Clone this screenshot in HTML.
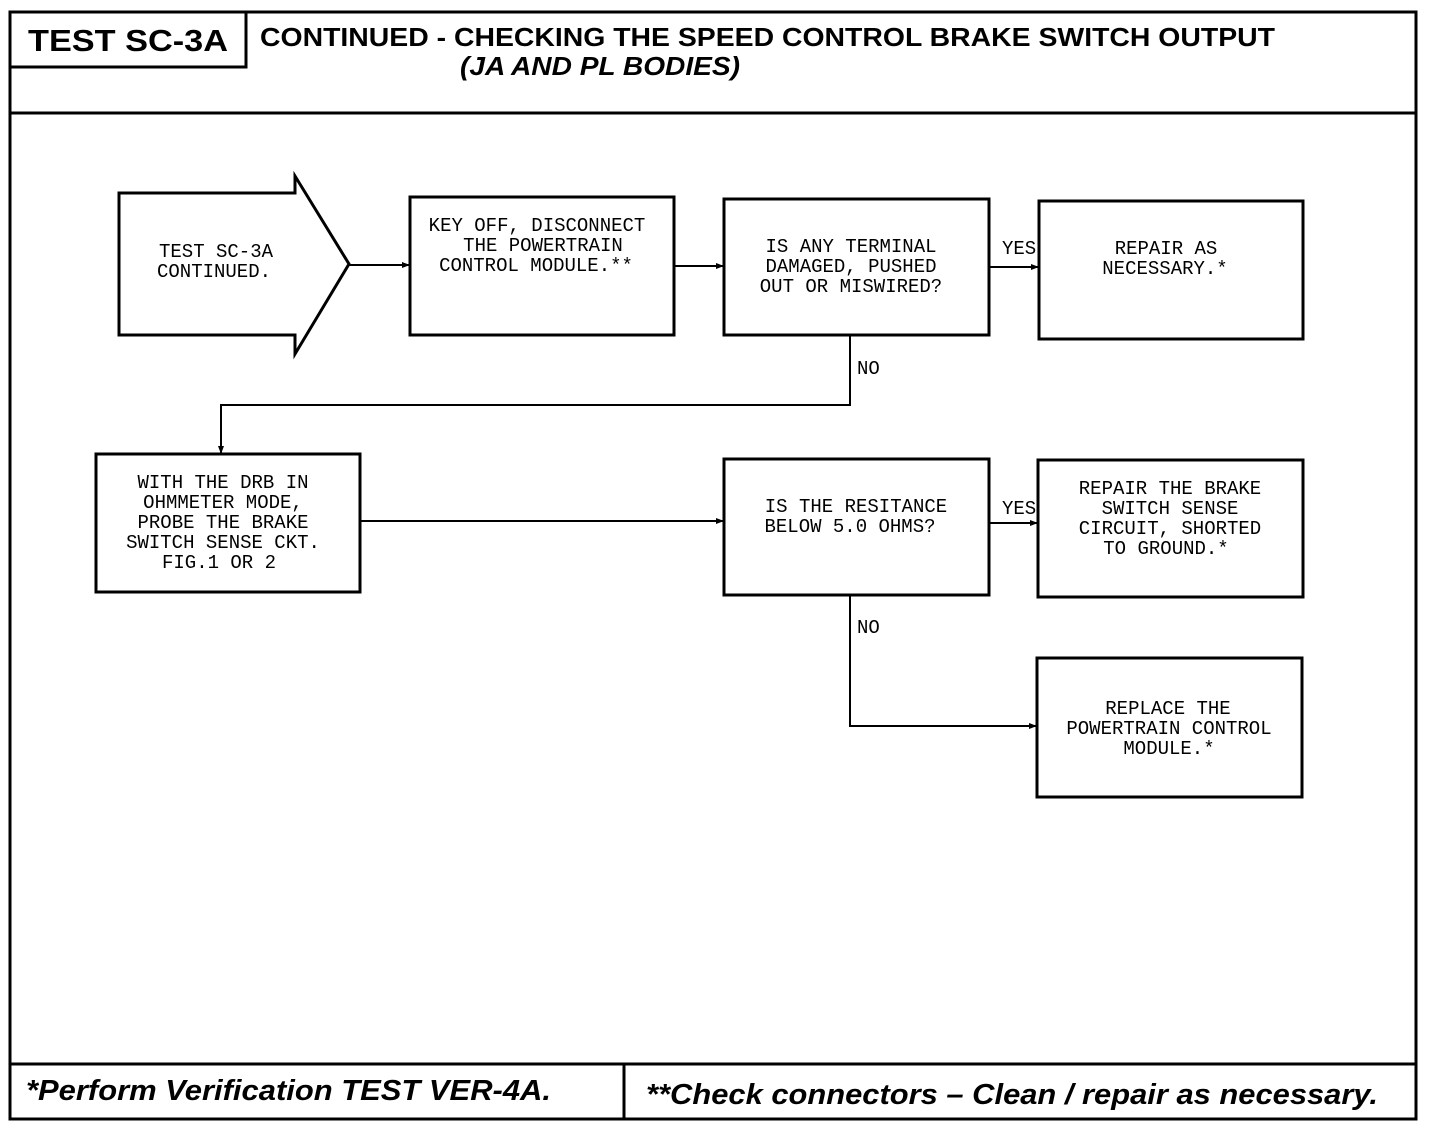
<!DOCTYPE html>
<html><head><style>html,body{margin:0;padding:0;background:#fff}svg{display:block}
.t{font-family:"Liberation Mono",monospace;font-size:19px;fill:#000}
.h{font-family:"Liberation Sans",sans-serif;font-weight:bold;fill:#000}
</style></head><body>
<svg width="1440" height="1126" viewBox="0 0 1440 1126" xmlns="http://www.w3.org/2000/svg">
<defs><marker id="a" markerWidth="8" markerHeight="8" refX="8" refY="4" orient="auto" markerUnits="userSpaceOnUse"><path d="M0,1 L8,4 L0,7z" fill="#000"/></marker></defs>
<g fill="none" stroke="#000" stroke-width="3">
<rect x="10" y="12" width="1406" height="1107"/>
<line x1="10" y1="113" x2="1416" y2="113"/>
<polyline points="10,67 246,67 246,12"/>
<line x1="10" y1="1064" x2="1416" y2="1064"/>
<line x1="624" y1="1064" x2="624" y2="1119"/>
<polygon points="119,193 295,193 295,176 349,264 295,354 295,335 119,335"/>
<rect x="410" y="197" width="264" height="138"/>
<rect x="724" y="199" width="265" height="136"/>
<rect x="1039" y="201" width="264" height="138"/>
<rect x="96" y="454" width="264" height="138"/>
<rect x="724" y="459" width="265" height="136"/>
<rect x="1038" y="460" width="265" height="137"/>
<rect x="1037" y="658" width="265" height="139"/>
</g>
<g fill="none" stroke="#000" stroke-width="2" marker-end="url(#a)">
<line x1="349" y1="265" x2="410" y2="265"/>
<line x1="674" y1="266" x2="724" y2="266"/>
<line x1="989" y1="267" x2="1039" y2="267"/>
<polyline points="850,335 850,405 221,405 221,454"/>
<line x1="360" y1="521" x2="724" y2="521"/>
<line x1="989" y1="523" x2="1038" y2="523"/>
<polyline points="850,595 850,726 1037,726"/>
</g>
<text class="h" x="28" y="51" font-size="31" textLength="200" lengthAdjust="spacingAndGlyphs">TEST SC-3A</text>
<text class="h" x="260" y="46" font-size="26" textLength="1015" lengthAdjust="spacingAndGlyphs">CONTINUED -  CHECKING THE SPEED CONTROL BRAKE SWITCH OUTPUT</text>
<text class="h" x="460" y="75" font-size="26" font-style="italic" textLength="280" lengthAdjust="spacingAndGlyphs">(JA AND PL BODIES)</text>
<text class="h" x="26" y="1100" font-size="29" font-style="italic" textLength="525" lengthAdjust="spacingAndGlyphs">*Perform  Verification  TEST VER-4A.</text>
<text class="h" x="646" y="1104" font-size="29" font-style="italic" textLength="732" lengthAdjust="spacingAndGlyphs">**Check connectors – Clean / repair  as  necessary.</text>
<g class="t" text-anchor="middle">
<text x="216" y="257">TEST SC-3A</text><text x="214" y="277">CONTINUED.</text>
<text x="537" y="231">KEY OFF, DISCONNECT</text><text x="543" y="251">THE POWERTRAIN</text><text x="536" y="271">CONTROL MODULE.**</text>
<text x="851" y="252">IS ANY TERMINAL</text><text x="851" y="272">DAMAGED, PUSHED</text><text x="851" y="292">OUT OR MISWIRED?</text>
<text x="1166" y="254">REPAIR AS</text><text x="1165" y="274">NECESSARY.*</text>
<text x="223" y="488">WITH THE DRB IN</text><text x="223" y="508">OHMMETER MODE,</text><text x="223" y="528">PROBE THE BRAKE</text><text x="223" y="548">SWITCH SENSE CKT.</text><text x="219" y="568">FIG.1 OR 2</text>
<text x="856" y="512">IS THE RESITANCE</text><text x="850" y="532">BELOW 5.0 OHMS?</text>
<text x="1170" y="494">REPAIR THE BRAKE</text><text x="1170" y="514">SWITCH SENSE</text><text x="1170" y="534">CIRCUIT, SHORTED</text><text x="1166" y="554">TO GROUND.*</text>
<text x="1168" y="714">REPLACE THE</text><text x="1169" y="734">POWERTRAIN CONTROL</text><text x="1169" y="754">MODULE.*</text>
</g>
<g class="t">
<text x="1002" y="254">YES</text><text x="1002" y="514">YES</text>
<text x="857" y="374">NO</text><text x="857" y="633">NO</text>
</g>
</svg>
</body></html>
